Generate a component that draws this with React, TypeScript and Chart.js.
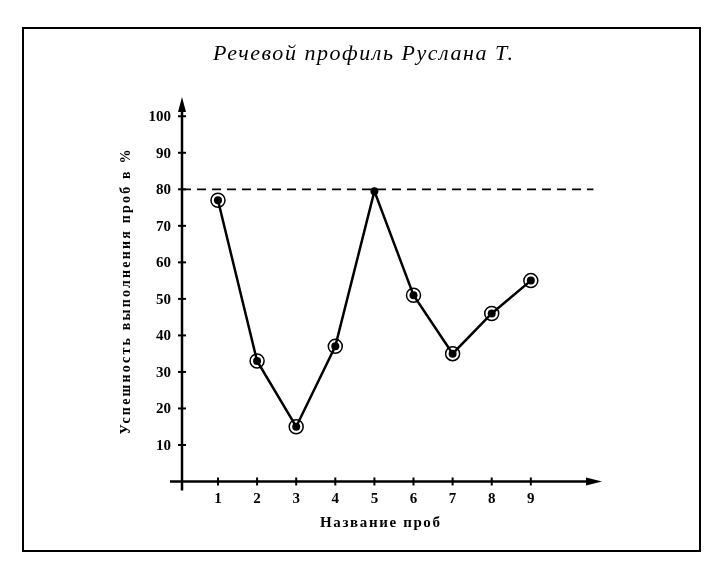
import React, { useEffect, useRef } from "react";
import { Chart, registerables } from "chart.js";

Chart.register(...registerables);

const TITLE = "Речевой профиль Руслана Т.";
const X_TITLE = "Название проб";
const Y_TITLE = "Успешность выполнения проб в %";
const probes = [1, 2, 3, 4, 5, 6, 7, 8, 9];
const success = [77, 33, 15, 37, 79.5, 51, 35, 46, 55];
const ringed = [true, true, true, true, false, true, true, true, true];
const yTicks = [10, 20, 30, 40, 50, 60, 70, 80, 90, 100];
const threshold = 80;
const thresholdSpan = [0.08, 10.6];

const SERIF = '"Liberation Serif", "DejaVu Serif", serif';

function fitText(ctx: CanvasRenderingContext2D, text: string, x: number, y: number, width: number) {
  (ctx as any).letterSpacing = "0px";
  const tw = ctx.measureText(text).width;
  const ls = Math.max(0, (width - tw) / (text.length - 1));
  (ctx as any).letterSpacing = `${ls}px`;
  ctx.fillText(text, x + ls / 2, y);
  (ctx as any).letterSpacing = "0px";
}

const decor = {
  id: "decor",
  afterDraw(chart: any) {
    const ctx = chart.ctx as CanvasRenderingContext2D;
    const xs = chart.scales.x;
    const ys = chart.scales.y;
    const x0 = xs.getPixelForValue(xs.min);
    const y0 = ys.getPixelForValue(0);
    ctx.save();
    ctx.strokeStyle = "#000";
    ctx.fillStyle = "#000";
    // frame
    ctx.lineWidth = 2;
    ctx.strokeRect(23, 28, 677, 523);
    // title
    ctx.font = `italic 22px ${SERIF}`;
    ctx.textAlign = "center";
    ctx.textBaseline = "middle";
    fitText(ctx, TITLE, 363, 54, 300);
    // y axis
    ctx.lineWidth = 2.5;
    const yTop = chart.chartArea.top - 1;
    ctx.beginPath();
    ctx.moveTo(x0, y0 + 9);
    ctx.lineTo(x0, yTop + 10);
    ctx.stroke();
    ctx.beginPath();
    ctx.moveTo(x0, yTop);
    ctx.lineTo(x0 - 4, yTop + 15);
    ctx.lineTo(x0 + 4, yTop + 15);
    ctx.closePath();
    ctx.fill();
    // x axis
    const xRight = chart.chartArea.right;
    ctx.beginPath();
    ctx.moveTo(x0 - 12, y0);
    ctx.lineTo(xRight - 10, y0);
    ctx.stroke();
    ctx.beginPath();
    ctx.moveTo(xRight, y0);
    ctx.lineTo(xRight - 16, y0 - 4);
    ctx.lineTo(xRight - 16, y0 + 4);
    ctx.closePath();
    ctx.fill();
    // y ticks & labels
    ctx.lineWidth = 2;
    ctx.font = `bold 15px ${SERIF}`;
    ctx.textAlign = "right";
    ctx.textBaseline = "middle";
    yTicks.forEach((v) => {
      const p = ys.getPixelForValue(v);
      ctx.beginPath();
      ctx.moveTo(x0 - 4, p);
      ctx.lineTo(x0 + 4, p);
      ctx.stroke();
      ctx.fillText(String(v), x0 - 11, p + 1);
    });
    // x ticks & labels
    ctx.textAlign = "center";
    ctx.textBaseline = "middle";
    probes.forEach((v) => {
      const p = xs.getPixelForValue(v);
      ctx.beginPath();
      ctx.moveTo(p, y0 - 4);
      ctx.lineTo(p, y0 + 4);
      ctx.stroke();
      ctx.fillText(String(v), p, y0 + 18);
    });
    // axis titles
    ctx.font = `bold 15px ${SERIF}`;
    fitText(ctx, X_TITLE, 380, 523, 120);
    ctx.save();
    ctx.translate(126, 292);
    ctx.rotate(-Math.PI / 2);
    ctx.font = `bold 14px ${SERIF}`;
    fitText(ctx, Y_TITLE, 0, 0, 285);
    ctx.restore();
    ctx.restore();
  },
};

export default function App() {
  const ref = useRef<HTMLCanvasElement | null>(null);
  useEffect(() => {
    if (!ref.current) return;
    const pts = probes.map((x, i) => ({ x, y: success[i] }));
    const chart = new Chart(ref.current, {
      type: "line",
      data: {
        datasets: [
          {
            data: thresholdSpan.map((x) => ({ x, y: threshold })),
            borderColor: "#000",
            borderWidth: 1.8,
            borderDash: [9, 6],
            pointRadius: 0,
          },
          {
            data: pts,
            borderColor: "#000",
            borderWidth: 2.5,
            pointRadius: 4,
            pointBackgroundColor: "#000",
            pointBorderColor: "#000",
            pointBorderWidth: 0,
            tension: 0,
          },
          {
            data: pts,
            showLine: false,
            pointRadius: ringed.map((r) => (r ? 7 : 0)),
            pointBackgroundColor: "rgba(0,0,0,0)",
            pointBorderColor: "#000",
            pointBorderWidth: 1.5,
          },
        ],
      },
      options: {
        animation: false,
        responsive: false,
        layout: { padding: { left: 182, right: 111, top: 98, bottom: 81.5 } },
        plugins: { legend: { display: false }, tooltip: { enabled: false }, title: { display: false } },
        scales: {
          x: { type: "linear", display: false, min: 0.08, max: 10.82 },
          y: { type: "linear", display: false, min: 0, max: 105 },
        },
      },
      plugins: [decor],
    });
    return () => chart.destroy();
  }, []);
  return (
    <div style={{ position: "fixed", left: 0, top: 0, width: 713, height: 563, background: "#fff" }}>
      <canvas ref={ref} width={713} height={563} style={{ width: 713, height: 563 }} />
    </div>
  );
}
